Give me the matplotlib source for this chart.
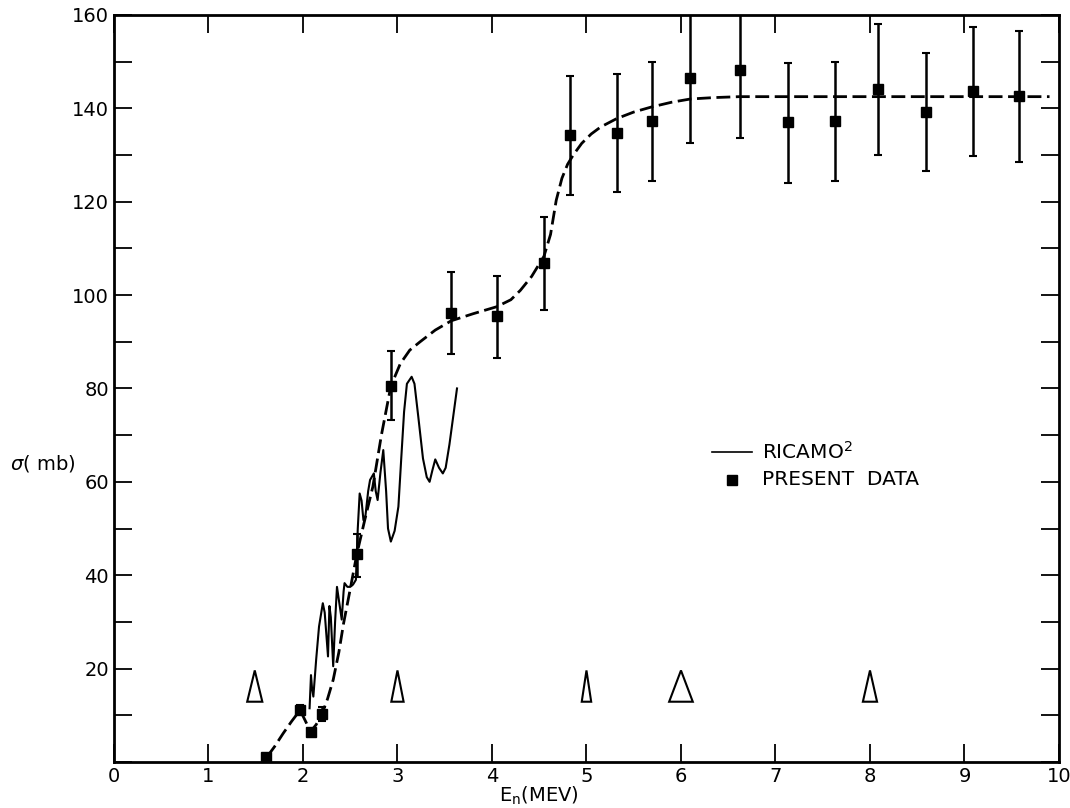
import matplotlib.pyplot as plt
import numpy as np
from matplotlib.ticker import MultipleLocator

# measured cross sections (present data)
e_data = [1.61, 1.97, 2.08, 2.20, 2.57, 2.93, 3.57, 4.05, 4.55, 4.83,
          5.32, 5.69, 6.10, 6.62, 7.13, 7.63, 8.09, 8.59, 9.09, 9.58]
sig_data = [1.1, 11.1, 6.4, 10.3, 44.5, 80.5, 96.1, 95.5, 106.8, 134.2,
            134.8, 137.3, 146.5, 148.3, 137.0, 137.3, 144.2, 139.3, 143.8, 142.7]
err_lo = [0, 0.5, 0, 1.5, 4.9, 7.3, 8.7, 9.0, 10.0, 12.8,
          12.7, 12.8, 14.0, 14.6, 12.9, 12.8, 14.3, 12.7, 14.0, 14.1]
err_hi = [0, 1.1, 0, 1.5, 4.3, 7.5, 8.9, 8.6, 10.0, 12.8,
          12.5, 12.6, 14.0, 14.6, 12.7, 12.7, 13.8, 12.6, 13.7, 13.8]

# dashed guide curve
e_fit = [1.62, 1.70, 1.79, 1.88, 1.97, 2.03, 2.08, 2.14, 2.20, 2.26, 2.32, 2.38,
         2.43, 2.50, 2.57, 2.65, 2.74, 2.83, 2.93, 3.03, 3.13, 3.24, 3.40, 3.57,
         3.80, 4.05, 4.20, 4.30, 4.42, 4.55, 4.62, 4.68, 4.74, 4.80, 4.86, 4.95,
         5.05, 5.15, 5.32, 5.50, 5.69, 5.90, 6.10, 6.35, 6.62, 7.0, 8.0, 9.0, 9.9]
sig_fit = [1.1, 3.3, 6.1, 8.7, 11.1, 8.6, 6.5, 8.0, 10.2, 13.5, 17.6, 23.5,
           29.7, 37.0, 44.5, 51.5, 59.0, 70.0, 80.5, 85.3, 88.2, 90.0, 92.5, 94.5,
           96.0, 97.5, 99.0, 101.0, 104.0, 108.3, 113.0, 120.3, 125.0, 128.0, 130.0, 132.5,
           134.5, 136.0, 137.8, 139.2, 140.3, 141.3, 142.0, 142.3, 142.5, 142.5, 142.5, 142.5, 142.5]

# Ricamo curve
e_ric = [2.07, 2.085, 2.095, 2.11, 2.14, 2.17, 2.21, 2.23, 2.265, 2.28, 2.295,
         2.32, 2.34, 2.36, 2.385, 2.41, 2.43, 2.44, 2.47, 2.50, 2.53, 2.56,
         2.58, 2.60, 2.62, 2.64, 2.66, 2.69, 2.71, 2.75, 2.77, 2.79, 2.82, 2.85,
         2.88, 2.90, 2.93, 2.97, 3.01, 3.04, 3.07, 3.10, 3.15, 3.18, 3.22, 3.27,
         3.31, 3.34, 3.37, 3.40, 3.44, 3.48, 3.51, 3.55, 3.59, 3.63]
sig_ric = [11.5, 18.6, 16.0, 14.0, 22.0, 29.0, 34.0, 32.0, 22.6, 33.4, 31.0,
           20.5, 30.0, 37.5, 34.0, 30.5, 36.5, 38.3, 37.5, 37.5, 38.0, 39.0,
           50.0, 57.5, 56.0, 51.8, 52.5, 58.0, 60.4, 61.8, 58.0, 56.1, 62.0, 66.8,
           58.0, 50.0, 47.2, 49.5, 54.7, 65.0, 75.0, 81.0, 82.5, 81.0, 74.0, 65.0,
           61.0, 60.0, 62.5, 64.8, 63.0, 61.8, 63.0, 68.0, 74.0, 80.0]
e_hook = [1.925, 1.945, 1.96]
sig_hook = [10.0, 11.8, 10.8]

# resolution triangles
tri_e = [1.49, 3.0, 5.0, 6.0, 8.0]
tri_w = [0.16, 0.13, 0.10, 0.25, 0.15]
tri_lo, tri_hi = 12.9, 19.6

fig = plt.figure(figsize=(10.7, 8.08), dpi=100)
ax = fig.add_axes([0.1065, 0.057, 0.8832, 0.9245])
plt.rcParams['font.family'] = 'DejaVu Sans'

ax.plot(e_fit, sig_fit, color='black', lw=2, dashes=(5, 2))
ax.plot(e_ric, sig_ric, color='black', lw=1.5)
ax.plot(e_hook, sig_hook, color='black', lw=1.2)
ax.errorbar(e_data, sig_data, yerr=[err_lo, err_hi], fmt='s', color='black',
            ms=7, elinewidth=1.8, capsize=3, capthick=1.5)

for c, w in zip(tri_e, tri_w):
    ax.fill([c - w / 2, c + w / 2, c, c - w / 2],
            [tri_lo, tri_lo, tri_hi, tri_lo],
            facecolor='white', edgecolor='black', lw=1.5)

# legend drawn by hand
ax.plot([6.33, 6.75], [66.4, 66.4], color='black', lw=1.2)
ax.text(6.86, 66.4, 'RICAMO$^2$', fontsize=14.5, va='center')
ax.plot([6.54], [60.4], 's', color='black', ms=7)
ax.text(6.86, 60.4, 'PRESENT  DATA', fontsize=14.5, va='center')

ax.set_xlim(0, 10)
ax.set_ylim(0, 160)
ax.xaxis.set_major_locator(MultipleLocator(1))
ax.yaxis.set_major_locator(MultipleLocator(20))
ax.yaxis.set_minor_locator(MultipleLocator(10))
ax.tick_params(which='both', direction='in', top=True, right=True,
               length=13, width=1.3, labelsize=14)
ax.set_yticks(np.arange(20, 161, 20))
for s in ax.spines.values():
    s.set_linewidth(2)

ax.text(-0.075, 0.40, '$\\sigma$( mb)', fontsize=14, transform=ax.transAxes,
        ha='center', va='center')
ax.text(0.45, -0.045, 'E$_\\mathregular{n}$(MEV)', fontsize=14,
        transform=ax.transAxes, ha='center', va='center')

fig.savefig('out.png', dpi=100)
